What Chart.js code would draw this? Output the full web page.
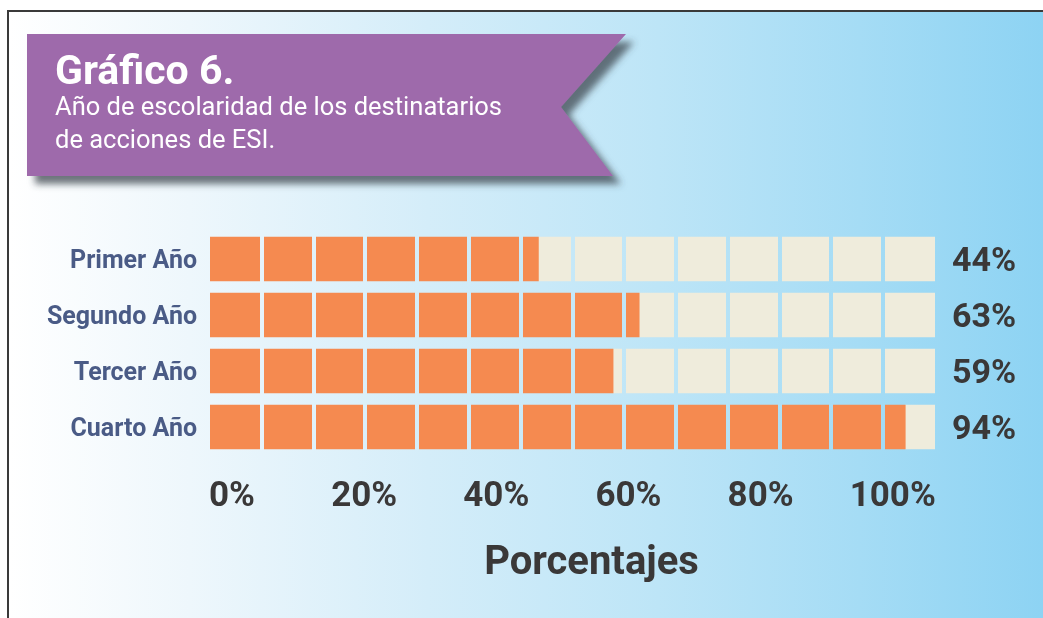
<!DOCTYPE html>
<html lang="es">
<head>
<meta charset="utf-8">
<title>Gráfico 6</title>
<script src="https://cdn.jsdelivr.net/npm/chart.js@4.4.1/dist/chart.umd.min.js"></script>
<style>
  html, body { margin: 0; padding: 0; background: #ffffff; overflow: hidden; }
  #page { position: relative; width: 1043px; height: 618px; overflow: hidden; font-family: Roboto, "Noto Sans", sans-serif; }
  #frame {
    position: absolute; left: 7px; top: 10px; width: 1036px; height: 608px;
    border-top: 2px solid #3a3a3a; border-left: 2px solid #3a3a3a; box-sizing: border-box;
    background: linear-gradient(to right, #ffffff 0px, #eef7fc 180px, #d4edf9 420px, #bde5f7 650px, #a5dcf5 850px, #8dd3f3 1036px);
  }
  #chart { position: absolute; left: 0; top: 0; }
  #banner { position: absolute; left: 0; top: 0; }
  .btxt { position: absolute; color: #ffffff; white-space: nowrap; }
  #t1 { left: 55px; top: 50px; font-size: 41px; line-height: 41px; font-weight: 700; }
  #t2 { left: 55px; top: 90px; font-size: 25.5px; line-height: 33px; font-weight: 400; }
</style>
</head>
<body>
<div id="page">
  <div id="frame"></div>
  <canvas id="chart" width="1183" height="618"></canvas>
  <svg id="banner" width="1043" height="220" xmlns="http://www.w3.org/2000/svg">
    <defs>
      <filter id="sh" x="-10%" y="-20%" width="130%" height="160%">
        <feDropShadow dx="8" dy="8" stdDeviation="3.5" flood-color="#3c4650" flood-opacity="0.75"/>
      </filter>
    </defs>
    <polygon points="27,34 626,34 561,107 613,176 27,176" fill="#9e6aab" filter="url(#sh)"/>
  </svg>
  <div class="btxt" id="t1">Gráfico 6.</div>
  <div class="btxt" id="t2">Año de escolaridad de los destinatarios<br>de acciones de ESI.</div>
</div>
<script>
// ---- data ----
const categories = ['Primer Año', 'Segundo Año', 'Tercer Año', 'Cuarto Año'];
const percentages = [44, 63, 59, 94];               // printed values
const barLengths = [45.3, 59.2, 55.6, 95.9];        // bar lengths as drawn in the picture (% of full bar)
const tickValues = [0, 20, 40, 60, 80, 100];
const segmentCount = 14;
const axisTitle = 'Porcentajes';

const valueLabels = percentages.map(v => v + '%');
const remainder = barLengths.map(v => 100 - v);

const segmentGaps = {
  id: 'segmentGaps',
  afterDatasetsDraw(chart) {
    const { ctx, chartArea, scales } = chart;
    const xs = scales.x;
    for (let k = 1; k < segmentCount; k++) {
      const px = xs.getPixelForValue(k * 100 / segmentCount);
      ctx.clearRect(px - 2, chartArea.top, 4, chartArea.bottom - chartArea.top);
    }
  }
};

new Chart(document.getElementById('chart'), {
  type: 'bar',
  data: {
    labels: categories,
    datasets: [
      { data: barLengths, backgroundColor: '#f58a50', borderWidth: 0, barThickness: 44, xAxisID: 'x', yAxisID: 'y' },
      { data: remainder, backgroundColor: '#efecdc', borderWidth: 0, barThickness: 44, xAxisID: 'x', yAxisID: 'y' }
    ]
  },
  plugins: [segmentGaps],
  options: {
    indexAxis: 'y',
    responsive: false,
    devicePixelRatio: 1,
    animation: false,
    events: [],
    layout: { padding: { left: 0, right: 0, top: 231, bottom: 0 } },
    plugins: {
      legend: { display: false },
      tooltip: { enabled: false },
      title: {
        display: true,
        text: axisTitle,
        position: 'bottom',
        align: 'center',
        color: '#3a3838',
        font: { family: 'Roboto', size: 40, weight: '700', lineHeight: 1.2 },
        padding: { top: 19, bottom: 30 }
      }
    },
    scales: {
      x: { type: 'linear', stacked: true, min: 0, max: 100, display: false },
      x2: {
        type: 'linear', position: 'bottom', min: -3.33, max: 106.4,
        afterBuildTicks: s => { s.ticks = tickValues.map(v => ({ value: v })); },
        afterFit: s => { s.height = 66; },
        grid: { display: false, drawTicks: false },
        border: { display: false },
        ticks: {
          autoSkip: false, maxRotation: 0, padding: 21,
          color: '#3a3838',
          font: { family: 'Roboto', size: 35, weight: '700' },
          callback: v => v + '%'
        }
      },
      y: {
        type: 'category', stacked: true, position: 'left',
        afterFit: s => { s.width = 210; },
        grid: { display: false, drawTicks: false },
        border: { display: false },
        ticks: {
          padding: 13, labelOffset: 3,
          color: '#4a5b86',
          font: { family: 'Roboto', size: 25, weight: '700' }
        }
      },
      y2: {
        type: 'category', position: 'right', labels: valueLabels,
        afterFit: s => { s.width = 248; },
        grid: { display: false, drawTicks: false },
        border: { display: false },
        ticks: {
          padding: 17, labelOffset: 3,
          color: '#3a3838',
          font: { family: 'Roboto', size: 34, weight: '700' }
        }
      }
    }
  }
});
</script>
</body>
</html>
